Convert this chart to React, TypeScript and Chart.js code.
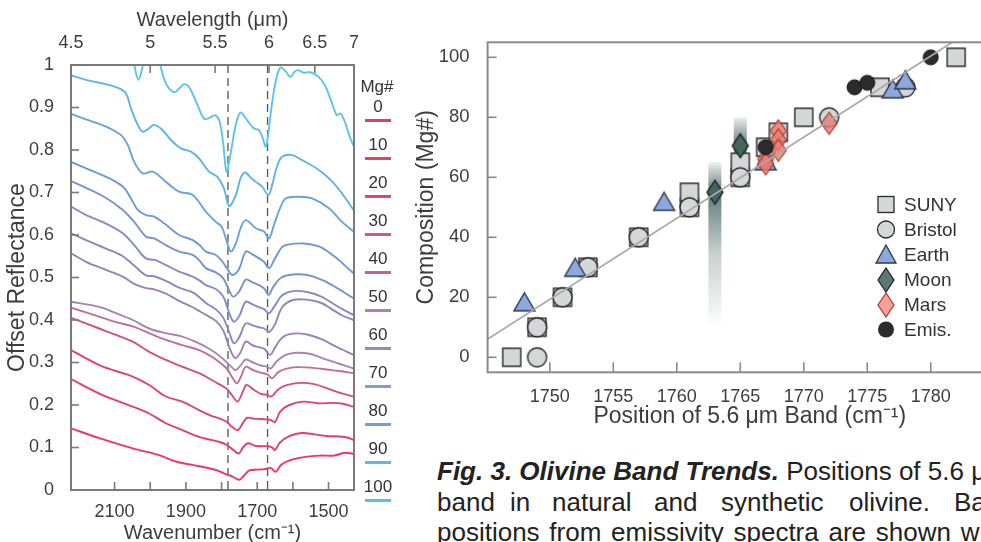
import React, { useEffect, useRef } from "react";
import { Chart, registerables } from "chart.js";
Chart.register(...registerables);

const FONT = "'Liberation Sans', Arial, Helvetica, sans-serif";
const TEXT = "#3d3d3d";
const AXIS = "#7a7a7a";

// ---------------- Left panel: spectra ----------------
const WN_MIN = 1428.6;
const WN_MAX = 2222.2;
const WN_TICKS = [2100, 2000, 1900, 1800, 1700, 1600, 1500];
const WN_LABELED = [2100, 1900, 1700, 1500];
const UM_TICKS = [4.5, 5, 5.5, 6, 6.5, 7];
const REFL_TICKS = [0, 0.1, 0.2, 0.3, 0.4, 0.5, 0.6, 0.7, 0.8, 0.9, 1];
const DASHED_WN = [1782, 1671];

const MG_LABELS = ["0", "10", "20", "30", "40", "50", "60", "70", "80", "90", "100"];
const MG_COLORS = ["#e8396b", "#e33f6e", "#d94a79", "#c95a8a", "#ba6597", "#ad80b0", "#9b87bc", "#8b98ca", "#72a0d6", "#5fb8e8", "#5cbdec"];

const SPEC_1 = [[2222,1.18],[2160,1.14],[2100,1.1],[2060,1.05],[2045,1.0],[2033,0.965],[2020,1.0],[2005,1.04],[1985,1.04],[1972,1.0],[1955,0.955],[1932,0.936],[1915,0.948],[1904,0.955],[1892,0.949],[1880,0.93],[1867,0.905],[1848,0.873],[1829,0.878],[1818,0.882],[1806,0.868],[1796,0.82],[1786,0.749],[1775,0.79],[1760,0.86],[1747,0.888],[1730,0.872],[1710,0.851],[1696,0.847],[1686,0.832],[1676,0.808],[1668,0.845],[1660,0.9],[1648,0.962],[1635,0.994],[1620,0.985],[1607,0.972],[1595,0.984],[1585,0.988],[1570,0.982],[1551,0.983],[1528,0.972],[1510,0.952],[1495,0.921],[1477,0.882],[1467,0.886],[1455,0.868],[1440,0.83],[1430,0.81]];
const SPEC_2 = [[2222,0.976],[2180,0.965],[2124,0.955],[2087,0.945],[2068,0.933],[2054,0.898],[2035,0.859],[2021,0.843],[2005,0.85],[1989,0.859],[1966,0.847],[1938,0.82],[1914,0.804],[1886,0.796],[1863,0.78],[1835,0.749],[1812,0.737],[1793,0.709],[1779,0.668],[1760,0.694],[1746,0.735],[1734,0.747],[1718,0.735],[1704,0.725],[1686,0.714],[1669,0.694],[1658,0.718],[1645,0.76],[1630,0.784],[1602,0.788],[1574,0.776],[1527,0.753],[1490,0.726],[1452,0.686],[1430,0.659]];
const SPEC_3 = [[2222,0.885],[2180,0.872],[2124,0.855],[2082,0.835],[2063,0.812],[2045,0.772],[2021,0.745],[1993,0.749],[1956,0.725],[1919,0.702],[1881,0.694],[1844,0.655],[1816,0.631],[1800,0.62],[1788,0.592],[1774,0.561],[1760,0.58],[1745,0.62],[1732,0.635],[1704,0.616],[1681,0.608],[1667,0.592],[1653,0.624],[1635,0.665],[1620,0.686],[1583,0.69],[1546,0.686],[1499,0.663],[1462,0.631],[1430,0.608]];
const SPEC_4 = [[2222,0.772],[2180,0.757],[2124,0.737],[2077,0.714],[2054,0.686],[2035,0.659],[2012,0.647],[1989,0.643],[1956,0.624],[1919,0.6],[1881,0.588],[1860,0.575],[1844,0.561],[1816,0.553],[1800,0.54],[1785,0.522],[1770,0.506],[1752,0.518],[1732,0.561],[1715,0.555],[1700,0.548],[1681,0.537],[1667,0.522],[1650,0.545],[1630,0.572],[1610,0.578],[1570,0.58],[1527,0.573],[1500,0.56],[1471,0.541],[1450,0.525],[1430,0.51]];
const SPEC_5 = [[2222,0.727],[2180,0.711],[2124,0.687],[2077,0.659],[2045,0.631],[2012,0.596],[1989,0.592],[1956,0.576],[1919,0.561],[1881,0.553],[1860,0.538],[1844,0.522],[1816,0.512],[1795,0.498],[1780,0.472],[1767,0.455],[1750,0.468],[1732,0.495],[1712,0.488],[1695,0.482],[1680,0.474],[1668,0.459],[1655,0.478],[1632,0.5],[1600,0.507],[1560,0.506],[1520,0.495],[1490,0.482],[1460,0.467],[1430,0.451]];
const SPEC_6 = [[2222,0.667],[2180,0.647],[2124,0.627],[2077,0.604],[2045,0.576],[2012,0.545],[1985,0.541],[1956,0.529],[1919,0.514],[1881,0.502],[1860,0.492],[1844,0.482],[1816,0.473],[1795,0.455],[1780,0.42],[1766,0.396],[1750,0.41],[1732,0.443],[1712,0.436],[1695,0.43],[1680,0.425],[1667,0.416],[1652,0.432],[1630,0.458],[1600,0.468],[1560,0.466],[1520,0.455],[1490,0.44],[1460,0.425],[1430,0.412]];
const SPEC_7 = [[2222,0.604],[2180,0.588],[2124,0.568],[2077,0.55],[2045,0.528],[2012,0.505],[1989,0.503],[1956,0.492],[1919,0.476],[1881,0.465],[1860,0.452],[1844,0.44],[1816,0.425],[1795,0.405],[1778,0.37],[1765,0.345],[1750,0.36],[1732,0.392],[1712,0.387],[1695,0.383],[1680,0.38],[1666,0.372],[1650,0.39],[1630,0.43],[1600,0.447],[1560,0.448],[1520,0.44],[1490,0.425],[1460,0.41],[1430,0.4]];
const SPEC_8 = [[2222,0.557],[2180,0.537],[2124,0.518],[2077,0.502],[2045,0.485],[2012,0.475],[1989,0.472],[1956,0.462],[1919,0.445],[1881,0.43],[1860,0.42],[1844,0.412],[1816,0.398],[1795,0.375],[1778,0.335],[1762,0.31],[1748,0.322],[1732,0.349],[1712,0.34],[1695,0.336],[1680,0.332],[1664,0.318],[1648,0.338],[1628,0.36],[1600,0.368],[1560,0.366],[1520,0.355],[1490,0.342],[1460,0.33],[1430,0.318]];
const SPEC_9 = [[2222,0.443],[2143,0.431],[2096,0.416],[2049,0.4],[2003,0.38],[1956,0.369],[1910,0.361],[1863,0.345],[1830,0.33],[1805,0.315],[1785,0.3],[1770,0.288],[1760,0.282],[1745,0.295],[1732,0.307],[1712,0.3],[1690,0.293],[1672,0.29],[1662,0.286],[1645,0.303],[1620,0.318],[1590,0.323],[1550,0.32],[1510,0.308],[1470,0.297],[1430,0.286]];
const SPEC_10 = [[2222,0.429],[2143,0.408],[2096,0.395],[2049,0.385],[2003,0.369],[1956,0.353],[1910,0.341],[1863,0.329],[1830,0.315],[1805,0.3],[1785,0.285],[1770,0.265],[1757,0.251],[1745,0.268],[1732,0.29],[1712,0.282],[1690,0.276],[1672,0.272],[1658,0.263],[1640,0.278],[1620,0.285],[1590,0.289],[1550,0.288],[1510,0.284],[1470,0.28],[1430,0.275]];
const SPEC_11 = [[2222,0.405],[2143,0.38],[2096,0.365],[2049,0.349],[2003,0.325],[1956,0.306],[1910,0.29],[1863,0.275],[1830,0.26],[1805,0.248],[1785,0.238],[1770,0.222],[1755,0.208],[1742,0.228],[1730,0.247],[1710,0.236],[1690,0.226],[1672,0.224],[1660,0.22],[1642,0.236],[1620,0.246],[1580,0.252],[1540,0.249],[1500,0.238],[1465,0.228],[1430,0.22]];
const SPEC_12 = [[2222,0.329],[2143,0.294],[2096,0.28],[2049,0.267],[2003,0.247],[1956,0.22],[1910,0.208],[1863,0.188],[1830,0.175],[1805,0.168],[1785,0.16],[1770,0.148],[1754,0.141],[1740,0.158],[1728,0.17],[1710,0.168],[1690,0.167],[1670,0.166],[1660,0.164],[1650,0.16],[1635,0.185],[1610,0.2],[1570,0.208],[1530,0.204],[1490,0.205],[1460,0.203],[1430,0.196]];
const SPEC_13 = [[2222,0.261],[2143,0.227],[2049,0.196],[2003,0.18],[1956,0.157],[1910,0.141],[1863,0.125],[1830,0.118],[1805,0.113],[1785,0.106],[1768,0.095],[1752,0.086],[1740,0.1],[1726,0.11],[1706,0.104],[1688,0.103],[1668,0.103],[1658,0.1],[1650,0.094],[1636,0.112],[1610,0.127],[1575,0.134],[1540,0.131],[1505,0.127],[1470,0.126],[1445,0.123],[1430,0.118]];
const SPEC_14 = [[2222,0.145],[2143,0.122],[2049,0.098],[1975,0.082],[1928,0.067],[1882,0.059],[1845,0.053],[1816,0.047],[1790,0.038],[1770,0.032],[1750,0.024],[1737,0.034],[1722,0.046],[1700,0.048],[1680,0.049],[1662,0.052],[1648,0.043],[1632,0.06],[1605,0.071],[1565,0.078],[1525,0.081],[1485,0.081],[1458,0.087],[1445,0.087],[1430,0.085]];

const SPECTRA = [SPEC_1, SPEC_2, SPEC_3, SPEC_4, SPEC_5, SPEC_6, SPEC_7, SPEC_8, SPEC_9, SPEC_10, SPEC_11, SPEC_12, SPEC_13, SPEC_14];
const SPEC_COLORS = ["#5ac4ef", "#60b4e5", "#68a4db", "#7099d1", "#7a92ca", "#848cc3", "#8e87bd", "#9883b6", "#a585b4", "#bf6f9b", "#d64f78", "#df436f", "#e63c69", "#ee3663"];

// ---------------- Right panel: band positions ----------------
const POS_TICKS = [1750, 1755, 1760, 1765, 1770, 1775, 1780];
const MG_TICKS = [0, 20, 40, 60, 80, 100];
const SUNY_PTS = [[1747,0],[1749,10],[1751,20],[1753,30],[1757,40],[1761,50],[1761,55],[1765,60],[1765,65],[1767,70],[1768,75],[1770,80],[1776,90],[1782,100]];
const BRISTOL_PTS = [[1749,0],[1749,10],[1751,20],[1753,30],[1757,40],[1761,50],[1765,60],[1772,80],[1778,90]];
const EARTH_PTS = [[1748,18.5],[1752,30],[1759,52],[1767,65.5],[1777,89.5],[1778,92.5]];
const MOON_PTS = [[1763,55],[1765,70.5]];
const MARS_PTS = [[1767,66],[1767,64.5],[1768,75.5],[1768,72.5],[1768,69],[1772,78]];
const EMIS_PTS = [[1767,70],[1774,90],[1775,91.5],[1780,100]];
const MOON_BARS = [[1763,10,55,65],[1765,55,70.5,80]]; // x, low, centre, high
const FIT_LINE = [[1745,5.8],[1781.7,105]];

const LEGEND_ITEMS = ["SUNY", "Bristol", "Earth", "Moon", "Mars", "Emis."];

// ---------------- caption ----------------
const CAPTION_BOLD = "Fig. 3. Olivine Band Trends.";
const CAPTION_1 = " Positions of 5.6 μm";
const CAPTION_2 = [["band", 437], ["in", 510], ["natural", 552], ["and", 654], ["synthetic", 721], ["olivine.", 849], ["Band", 954]];
const CAPTION_3 = "positions from emissivity spectra are shown with";

// ---------------- helpers ----------------
function makeMarker(kind: string, w: number, h: number, fill: string, stroke: string, lw: number) {
  const c = document.createElement("canvas");
  const pad = 2;
  c.width = Math.ceil(w + pad * 2);
  c.height = Math.ceil(h + pad * 2);
  const g = c.getContext("2d")!;
  const cx = c.width / 2, cy = c.height / 2;
  g.fillStyle = fill;
  g.strokeStyle = stroke;
  g.lineWidth = lw;
  g.beginPath();
  if (kind === "square") g.rect(cx - w / 2, cy - h / 2, w, h);
  else if (kind === "circle") g.arc(cx, cy, w / 2, 0, Math.PI * 2);
  else if (kind === "triangle") { g.moveTo(cx, cy - h / 2); g.lineTo(cx + w / 2, cy + h / 2); g.lineTo(cx - w / 2, cy + h / 2); g.closePath(); }
  else { g.moveTo(cx, cy - h / 2); g.lineTo(cx + w / 2, cy); g.lineTo(cx, cy + h / 2); g.lineTo(cx - w / 2, cy); g.closePath(); }
  g.fill();
  g.stroke();
  return c;
}

const framePlugin = {
  id: "frame",
  afterDraw(chart: any, _a: any, opts: any) {
    const { ctx, chartArea: ca } = chart;
    ctx.save();
    ctx.strokeStyle = opts.color || AXIS;
    ctx.lineWidth = opts.width || 2;
    ctx.strokeRect(ca.left, ca.top, ca.right - ca.left, ca.bottom - ca.top);
    ctx.lineWidth = opts.tickWidth || 1.6;
    for (const spec of opts.ticks || []) {
      const s = chart.scales[spec.id];
      for (const v of spec.values) {
        const p = s.getPixelForValue(v);
        ctx.beginPath();
        if (spec.side === "bottom") { ctx.moveTo(p, ca.bottom); ctx.lineTo(p, ca.bottom - spec.len); }
        else if (spec.side === "top") { ctx.moveTo(p, ca.top); ctx.lineTo(p, ca.top + spec.len); }
        else if (spec.side === "left") { ctx.moveTo(ca.left, p); ctx.lineTo(ca.left + spec.len, p); }
        ctx.stroke();
      }
    }
    ctx.restore();
  },
};

const vlinesPlugin = {
  id: "vlines",
  beforeDatasetsDraw(chart: any, _a: any, opts: any) {
    const { ctx, chartArea: ca } = chart;
    const s = chart.scales.x;
    ctx.save();
    ctx.strokeStyle = "#555";
    ctx.lineWidth = 1.3;
    ctx.setLineDash([8, 5]);
    for (const v of opts.values || []) {
      const p = s.getPixelForValue(v);
      ctx.beginPath();
      ctx.moveTo(p, ca.top);
      ctx.lineTo(p, ca.bottom);
      ctx.stroke();
    }
    ctx.restore();
  },
};

const barsPlugin = {
  id: "moonbars",
  beforeDatasetsDraw(chart: any, _a: any, opts: any) {
    const { ctx } = chart;
    const xs = chart.scales.x, ys = chart.scales.y;
    ctx.save();
    for (const [x, lo, mid, hi] of opts.bars || []) {
      const px = xs.getPixelForValue(x);
      const w = 13;
      const yTop = ys.getPixelForValue(hi), yMid = ys.getPixelForValue(mid), yBot = ys.getPixelForValue(lo);
      const g = ctx.createLinearGradient(0, yTop, 0, yBot);
      const f = Math.max(0.01, Math.min(0.97, (yMid - yTop) / (yBot - yTop)));
      g.addColorStop(0, "rgba(70,100,98,0.10)");
      g.addColorStop(f, "rgba(70,100,98,0.85)");
      g.addColorStop(f + (1 - f) * 0.45, "rgba(70,100,98,0.3)");
      g.addColorStop(1, "rgba(70,100,98,0.0)");
      ctx.fillStyle = g;
      ctx.fillRect(px - w / 2, yTop, w, yBot - yTop);
    }
    ctx.restore();
  },
};

const tickFont = (size: number) => ({ family: FONT, size });

function leftConfig(): any {
  return {
    type: "line",
    data: {
      datasets: SPECTRA.map((s, i) => ({
        data: s.map(([x, y]) => ({ x, y })),
        borderColor: SPEC_COLORS[i],
        borderWidth: 1.9,
        pointRadius: 0,
        tension: 0.35,
        fill: false,
        clip: 0,
        xAxisID: "x",
        yAxisID: "y",
      })),
    },
    options: {
      responsive: false,
      animation: false,
      events: [],
      layout: { padding: { left: 0, right: 8, top: 0, bottom: 0 } },
      plugins: {
        legend: { display: false },
        tooltip: { enabled: false },
        frame: {
          color: AXIS,
          width: 2,
          ticks: [
            { id: "x", side: "bottom", values: WN_TICKS, len: 8 },
            { id: "xTop", side: "top", values: UM_TICKS.map((u) => 10000 / u), len: 8 },
            { id: "y", side: "left", values: REFL_TICKS, len: 8 },
          ],
        },
        vlines: { values: DASHED_WN },
      },
      scales: {
        x: {
          type: "linear",
          position: "bottom",
          min: WN_MIN,
          max: WN_MAX,
          reverse: true,
          grid: { display: false },
          border: { display: false },
          afterBuildTicks: (s: any) => { s.ticks = WN_TICKS.map((v) => ({ value: v })); },
          afterFit: (s: any) => { s.height = 52; },
          ticks: {
            autoSkip: false, maxRotation: 0, padding: 3, color: TEXT, font: tickFont(18),
            callback: (v: number) => (WN_LABELED.includes(v) ? String(v) : ""),
          },
          title: { display: true, text: "Wavenumber (cm⁻¹)", color: TEXT, font: tickFont(20), padding: { top: 0, bottom: -3 } },
        },
        xTop: {
          type: "linear",
          position: "top",
          min: WN_MIN,
          max: WN_MAX,
          reverse: true,
          grid: { display: false },
          border: { display: false },
          afterBuildTicks: (s: any) => { s.ticks = UM_TICKS.map((u) => ({ value: 10000 / u })); },
          afterFit: (s: any) => { s.height = 65; },
          ticks: {
            autoSkip: false, maxRotation: 0, padding: 3, color: TEXT, font: tickFont(18),
            callback: (v: number) => {
              const u = UM_TICKS.find((t) => Math.abs(10000 / t - v) < 0.05);
              return u === undefined ? "" : String(u);
            },
          },
          title: { display: true, text: "Wavelength (μm)", color: TEXT, font: tickFont(20), padding: { top: 8, bottom: 0 } },
        },
        y: {
          type: "linear",
          min: 0,
          max: 1,
          grid: { display: false },
          border: { display: false },
          afterBuildTicks: (s: any) => { s.ticks = REFL_TICKS.map((v) => ({ value: v })); },
          afterFit: (s: any) => { s.width = 71; },
          ticks: { autoSkip: false, padding: 9, color: TEXT, font: tickFont(18), callback: (v: number) => String(v) },
          title: { display: true, text: "Offset Reflectance", color: TEXT, font: tickFont(23), padding: { top: 4, bottom: 0 } },
        },
      },
    },
    plugins: [framePlugin, vlinesPlugin],
  };
}

function rightConfig(): any {
  const sq = makeMarker("square", 18, 18, "#d6d7d9", "#2a2a2a", 1.4);
  const ci = makeMarker("circle", 19, 19, "#d6d7d9", "#2a2a2a", 1.4);
  const tr = makeMarker("triangle", 21, 18, "#8ca8dc", "#2c3550", 1.4);
  const mo = makeMarker("diamond", 16, 24, "#46655f", "#1e2b29", 1.4);
  const ma = makeMarker("diamond", 16, 22, "rgba(240,122,112,0.82)", "#9d3d37", 1.2);
  const em = makeMarker("circle", 15, 15, "#2b2b2b", "#151515", 1);
  const ds = (pts: number[][], img: any, order: number) => ({
    type: "scatter",
    data: pts.map(([x, y]) => ({ x, y })),
    pointStyle: img,
    pointRadius: 9,
    order,
    clip: false,
  });
  return {
    type: "scatter",
    data: {
      datasets: [
        { type: "line", data: FIT_LINE.map(([x, y]) => ({ x, y })), borderColor: "#a9a9a9", borderWidth: 1.8, pointRadius: 0, order: 0, clip: 0 },
        ds(EMIS_PTS, em, 1),
        ds(MARS_PTS, ma, 2),
        ds(MOON_PTS, mo, 3),
        ds(EARTH_PTS, tr, 4),
        ds(BRISTOL_PTS, ci, 5),
        ds(SUNY_PTS, sq, 6),
      ],
    },
    options: {
      responsive: false,
      animation: false,
      events: [],
      layout: { padding: { left: 0, right: 0, top: 42.3, bottom: 0 } },
      plugins: {
        legend: { display: false },
        tooltip: { enabled: false },
        frame: {
          color: "#8a8a8a",
          width: 2,
          ticks: [
            { id: "x", side: "bottom", values: POS_TICKS, len: 10 },
            { id: "y", side: "left", values: MG_TICKS, len: 9 },
          ],
        },
        moonbars: { bars: MOON_BARS },
      },
      scales: {
        x: {
          type: "linear",
          min: 1745.1,
          max: 1786.4,
          grid: { display: false },
          border: { display: false },
          afterBuildTicks: (s: any) => { s.ticks = POS_TICKS.map((v) => ({ value: v })); },
          afterFit: (s: any) => { s.height = 67.7; },
          ticks: { autoSkip: false, maxRotation: 0, padding: 6, color: TEXT, font: tickFont(18), callback: (v: number) => String(v) },
          title: { display: true, text: "Position of 5.6 μm Band (cm⁻¹)", color: TEXT, font: tickFont(23), padding: { top: 0, bottom: 10 } },
        },
        y: {
          type: "linear",
          min: -5,
          max: 105,
          grid: { display: false },
          border: { display: false },
          afterBuildTicks: (s: any) => { s.ticks = MG_TICKS.map((v) => ({ value: v })); },
          afterFit: (s: any) => { s.width = 87.6; },
          ticks: { autoSkip: false, padding: 10, color: TEXT, font: tickFont(18.5), callback: (v: number) => String(v) },
          title: { display: true, text: "Composition (Mg#)", color: TEXT, font: tickFont(23), padding: { top: 13, bottom: 0 } },
        },
      },
    },
    plugins: [framePlugin, barsPlugin],
  };
}

function LegendMarker({ i }: { i: number }) {
  const s = { width: 24, height: 26, display: "block" } as any;
  if (i === 0) return <svg style={s}><rect x="4" y="4.5" width="16" height="16" fill="#d6d7d9" stroke="#2a2a2a" strokeWidth="1.3" /></svg>;
  if (i === 1) return <svg style={s}><circle cx="12" cy="12.5" r="8.5" fill="#d6d7d9" stroke="#2a2a2a" strokeWidth="1.3" /></svg>;
  if (i === 2) return <svg style={s}><polygon points="12,3 22,21 2,21" fill="#8ca8dc" stroke="#2c3550" strokeWidth="1.3" /></svg>;
  if (i === 3) return <svg style={s}><polygon points="12,1 20,13 12,25 4,13" fill="#5c7873" stroke="#1e2b29" strokeWidth="1.3" /></svg>;
  if (i === 4) return <svg style={s}><polygon points="12,1 20,13 12,25 4,13" fill="#f4a299" stroke="#9d3d37" strokeWidth="1.2" /></svg>;
  return <svg style={s}><circle cx="12" cy="12.5" r="8" fill="#2b2b2b" /></svg>;
}

export default function App() {
  const leftRef = useRef<HTMLCanvasElement>(null);
  const rightRef = useRef<HTMLCanvasElement>(null);
  useEffect(() => {
    const l = new Chart(leftRef.current as HTMLCanvasElement, leftConfig());
    const r = new Chart(rightRef.current as HTMLCanvasElement, rightConfig());
    return () => { l.destroy(); r.destroy(); };
  }, []);

  const cap: any = { position: "absolute", whiteSpace: "nowrap", fontSize: 26, lineHeight: "30px", color: "#222" };

  return (
    <div style={{ position: "fixed", left: 0, top: 0, width: 981, height: 542, overflow: "hidden", background: "#fff", fontFamily: FONT }}>
      <canvas ref={leftRef} width={362} height={542} style={{ position: "absolute", left: 0, top: 0, width: 362, height: 542 }} />
      <canvas ref={rightRef} width={622} height={440} style={{ position: "absolute", left: 400, top: 0, width: 622, height: 440 }} />

      {/* Mg# legend */}
      <div style={{ position: "absolute", left: 357, top: 77, width: 40, textAlign: "center", fontSize: 17, color: "#333" }}>Mg#</div>
      {MG_LABELS.map((t, i) => (
        <div key={t} style={{ position: "absolute", left: 363, top: 97 + i * 38, width: 30 }}>
          <div style={{ textAlign: "center", fontSize: 17, lineHeight: "20px", color: "#333" }}>{t}</div>
          <div style={{ marginLeft: 2, marginTop: 2, width: 26, height: 2.5, background: MG_COLORS[i] }} />
        </div>
      ))}

      {/* right legend */}
      {LEGEND_ITEMS.map((t, i) => (
        <div key={t} style={{ position: "absolute", left: 874, top: 192 + i * 25, height: 26, display: "flex", alignItems: "center" }}>
          <LegendMarker i={i} />
          <span style={{ marginLeft: 6, fontSize: 19, color: "#333" }}>{t}</span>
        </div>
      ))}

      {/* caption */}
      <div style={{ ...cap, left: 437, top: 456 }}>
        <b><i>{CAPTION_BOLD}</i></b>{CAPTION_1}
      </div>
      {CAPTION_2.map(([w, x]) => (
        <div key={w as string} style={{ ...cap, left: x as number, top: 487 }}>{w}</div>
      ))}
      <div style={{ ...cap, left: 437, top: 517, wordSpacing: 2.5 }}>{CAPTION_3}</div>
    </div>
  );
}
